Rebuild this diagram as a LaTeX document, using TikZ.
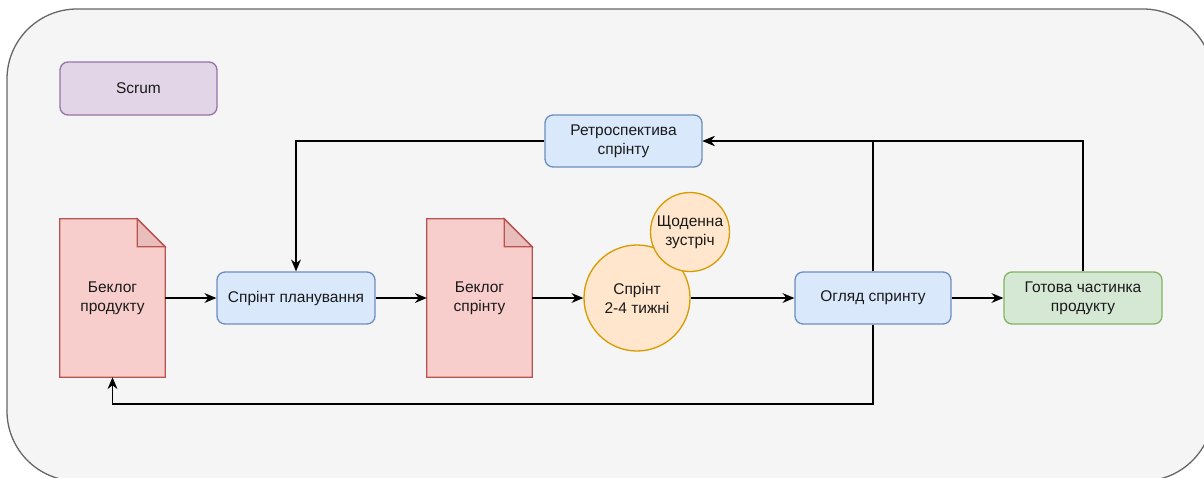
\documentclass[tikz,border=0pt]{standalone}
\usepackage{fontspec}
\setmainfont{Liberation Sans}
\usetikzlibrary{arrows.meta,calc}
\definecolor{frameFill}{HTML}{F5F5F5}
\definecolor{frameLine}{HTML}{666666}
\definecolor{purpleFill}{HTML}{E1D5E7}
\definecolor{purpleLine}{HTML}{9673A6}
\definecolor{redFill}{HTML}{F8CECC}
\definecolor{redFold}{HTML}{E9BDBB}
\definecolor{redLine}{HTML}{B85450}
\definecolor{blueFill}{HTML}{DAE8FC}
\definecolor{blueLine}{HTML}{6C8EBF}
\definecolor{orangeFill}{HTML}{FFE6CC}
\definecolor{orangeLine}{HTML}{D79B00}
\definecolor{greenFill}{HTML}{D5E8D4}
\definecolor{greenLine}{HTML}{82B366}
\definecolor{ink}{HTML}{1A1A1A}
\pgfdeclarelayer{background}
\pgfsetlayers{background,main}
\tikzset{
  label text/.style={font=\fontsize{15.5}{18.8}\selectfont, text=ink, align=center},
  roundbox/.style={label text, draw, line width=1.3pt, rounded corners=8pt,
    minimum width=157pt, minimum height=52pt, inner sep=0pt},
  purplebox/.style={roundbox, fill=purpleFill, draw=purpleLine},
  bluebox/.style={roundbox, fill=blueFill, draw=blueLine},
  greenbox/.style={roundbox, fill=greenFill, draw=greenLine},
  docnode/.style={label text, minimum width=105pt, minimum height=158pt, inner sep=0pt},
  docbody/.style={fill=redFill, draw=redLine, line width=1.3pt, line join=miter},
  docfold/.style={fill=redFold, draw=redLine, line width=1.3pt},
  roundnode/.style={label text, circle, draw=orangeLine, fill=orangeFill, line width=1.3pt, inner sep=0pt},
  flow/.style={draw=black, line width=1.3pt,
    -{Stealth[length=12pt,width=10pt,inset=4pt,line width=0pt]}},
}
\begin{document}
\begin{tikzpicture}[x=1pt,y=-1pt]
\useasboundingbox (0,0) rectangle (1204,477);
\clip (0,0) rectangle (1204,477);

% nodes
\node[purplebox, minimum height=53pt] (scrum) at (138.5,88.5) {Scrum};
\node[docnode] (pb) at (112.5,298) {Беклог\\продукту};
\node[bluebox, minimum width=158pt] (plan) at (296,298) {Спрінт планування};
\node[docnode] (sb) at (479.5,298) {Беклог\\спрінту};
\node[roundnode, minimum size=106pt] (sprint) at (637,298) {Спрінт\\2-4 тижні};
\node[roundnode, minimum size=79pt] (daily) at (690,232) {Щоденна\\зустріч};
\node[bluebox, minimum width=156pt] (review) at (873,298) {Огляд спринту};
\node[greenbox, minimum width=158pt] (done) at (1083,298) {Готова частинка\\продукту};
\node[bluebox] (retro) at (623.5,141) {Ретроспектива\\спрінту};
\coordinate (lowrail) at (0,404);

% container and document shapes behind the labels
\begin{pgfonlayer}{background}
  \fill[white] (0,0) rectangle (1204,477);
  \draw[fill=frameFill, draw=frameLine, line width=1.3pt, rounded corners=70pt]
    (7,9) rectangle (1213,481);
  \foreach \d in {pb,sb}{
    \draw[docbody] (\d.north west) -- ([xshift=-28pt]\d.north east)
      -- ([yshift=-28pt]\d.north east) -- (\d.south east) -- (\d.south west) -- cycle;
    \draw[docfold] ([xshift=-28pt]\d.north east) -- ([xshift=-28pt,yshift=-28pt]\d.north east)
      -- ([yshift=-28pt]\d.north east) -- cycle;
  }
\end{pgfonlayer}

% connectors
\draw[flow] (pb.east) -- (plan.west);
\draw[flow] (plan.east) -- (sb.west);
\draw[flow] (sb.east) -- (sprint.west);
\draw[flow] (sprint.east) -- (review.west);
\draw[flow] (review.east) -- (done.west);
\draw[flow] (review.north) |- (retro.east);
\draw[flow] (done.north) |- (retro.east);
\draw[flow] (retro.west) -| (plan.north);
\draw[flow] (review.south) -- (review.south |- lowrail) -| (pb.south);
\end{tikzpicture}
\end{document}
